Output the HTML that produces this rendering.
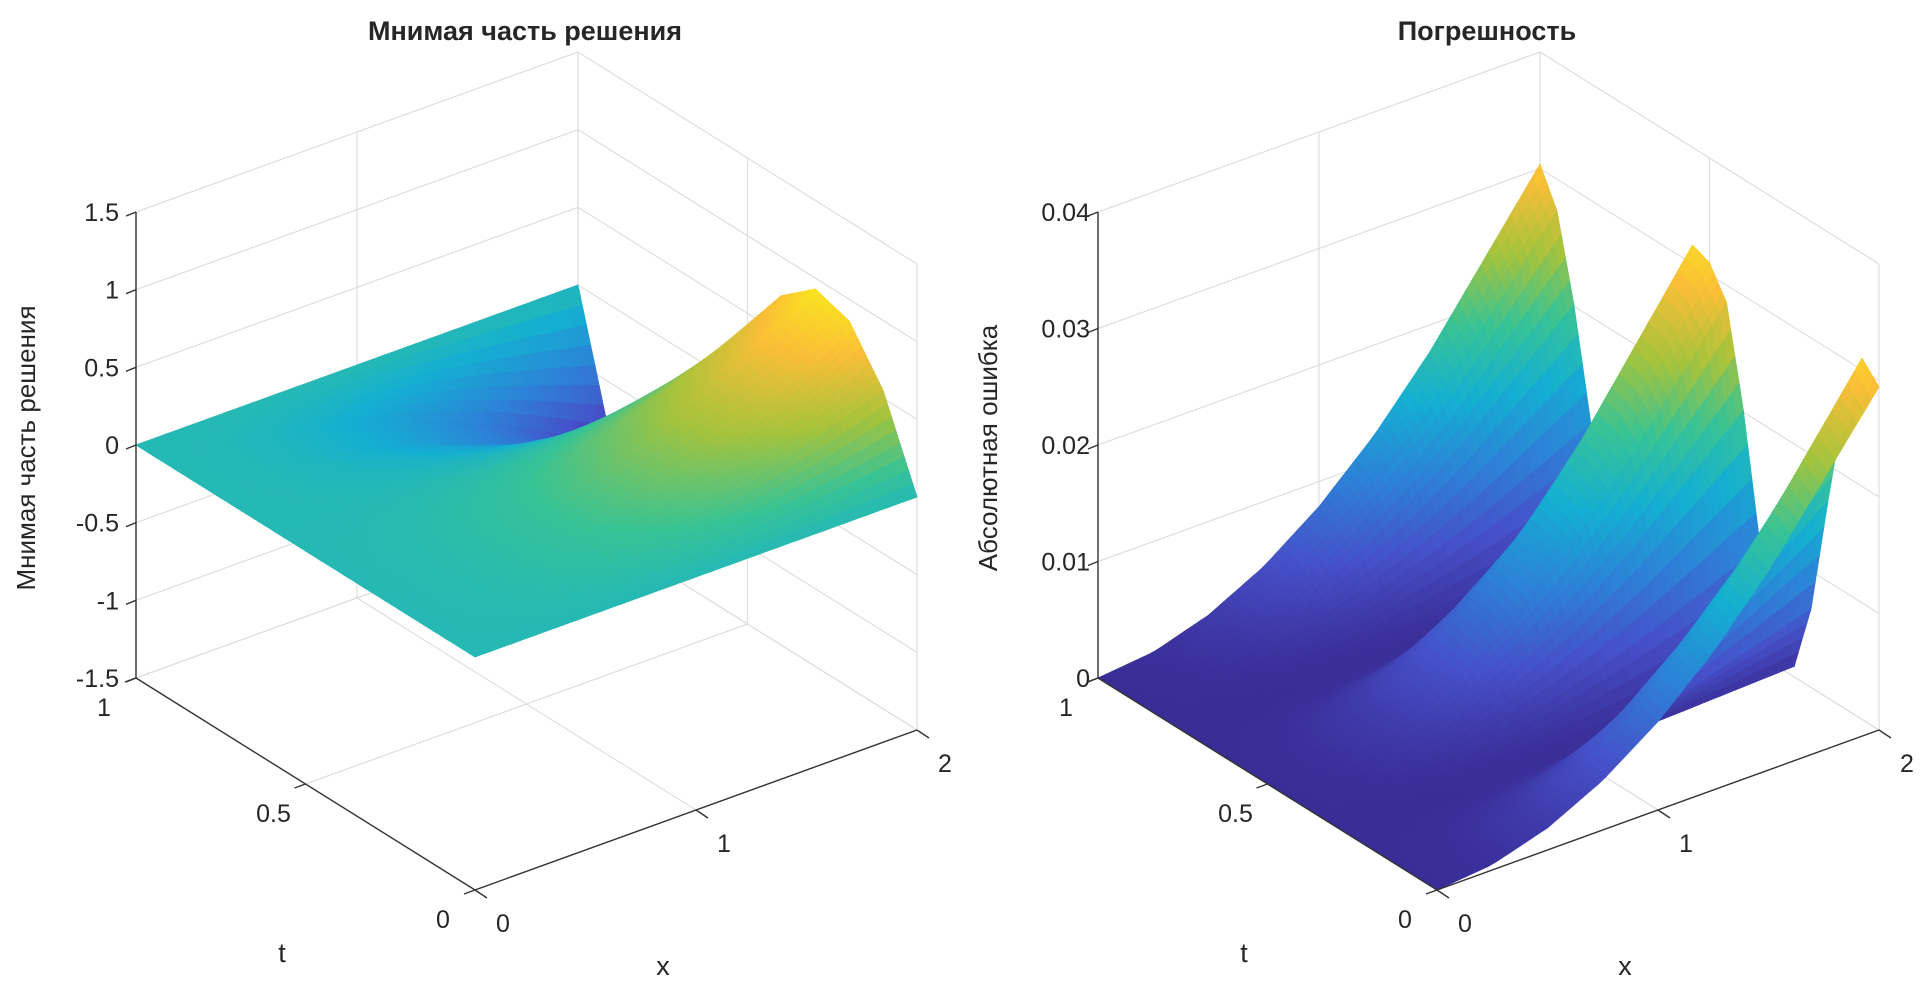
<!DOCTYPE html>
<html><head><meta charset="utf-8"><title>3D surfaces</title>
<style>
html,body{margin:0;padding:0;background:#fff;}
svg{display:block;}
text{font-family:"Liberation Sans","DejaVu Sans",sans-serif;fill:#262626;}
</style></head>
<body>
<svg id="fig" width="1924" height="998" viewBox="0 0 1924 998" xmlns="http://www.w3.org/2000/svg">
<rect width="1924" height="998" fill="#fff"/>
</svg>
<script>
// ---- data arrays ----
const xTicks = [0, 1, 2];
const tTicks = [0, 0.5, 1];
const zTicksLeft = [-1.5, -1, -0.5, 0, 0.5, 1, 1.5];
const zTickLabelsLeft = ["-1.5", "-1", "-0.5", "0", "0.5", "1", "1.5"];
const zTicksRight = [0, 0.01, 0.02, 0.03, 0.04];
const zTickLabelsRight = ["0", "0.01", "0.02", "0.03", "0.04"];
// left surface: z = ampLeft(x) * profLeft(t)
const xSamples = [0, 0.25, 0.5, 0.75, 1, 1.25, 1.5, 1.75, 2];
const ampLeft = [0, 0.016, 0.0625, 0.14, 0.25, 0.39, 0.56, 0.77, 1.0];
const tSamplesLeft = [0, 0.1, 0.2, 0.3, 0.4, 0.5, 0.6, 0.7, 0.8, 0.9, 1.0];
const profLeft = [0, 0.55, 0.86, 0.93, 0.75, 0.35, -0.15, -0.6, -0.95, -0.9, 0];
// right surface: error = ampRight(x) * profRight(t)
const ampRight = [0, 0.0005, 0.002, 0.0045, 0.008, 0.0125, 0.018, 0.0245, 0.031];
const tSamplesRight = [0,0.05,0.1,0.15,0.2,0.25,0.3,0.35,0.4,0.45,0.5,0.55,0.6,0.65,0.7,0.75,0.8,0.85,0.9,0.95,1.0];
const profRight = [0.95,1.0,0.85,0.55,0.22,0.03,0.05,0.3,0.65,0.92,1.0,1.02,0.8,0.45,0.12,0.02,0.1,0.35,0.65,0.88,0.98];

const NS = "http://www.w3.org/2000/svg";
const svg = document.getElementById('fig');
function el(tag, attrs, parent){ const e=document.createElementNS(NS,tag); for(const k in attrs) e.setAttribute(k,attrs[k]); (parent||svg).appendChild(e); return e; }

const PAR = [[0,58,45,150],[0.143,70,80,200],[0.286,45,130,215],[0.429,20,175,210],[0.571,55,195,150],[0.714,165,195,60],[0.857,250,190,55],[1,249,240,25]];
function parula(v){ v=Math.max(0,Math.min(1,v)); for(let i=1;i<PAR.length;i++){ if(v<=PAR[i][0]){ const a=PAR[i-1],b=PAR[i],f=(v-a[0])/(b[0]-a[0]); return `rgb(${Math.round(a[1]+(b[1]-a[1])*f)},${Math.round(a[2]+(b[2]-a[2])*f)},${Math.round(a[3]+(b[3]-a[3])*f)})`; } } return 'rgb(249,240,25)'; }
function lerp(xs, ys, v){ for(let i=1;i<xs.length;i++){ if(v<=xs[i]+1e-9){ const f=(v-xs[i-1])/(xs[i]-xs[i-1]); return ys[i-1]+(ys[i]-ys[i-1])*f; } } return ys[ys.length-1]; }

function makePlot(cfg){
  const g = el('g', {});
  
  
  const X0=cfg.x0, Y0=890, H=466;
  const sx=(x,t)=>X0+221*x-339*t;
  const sy=(x,t,z)=>Y0-80*x-212*t-(z-cfg.zmin)/(cfg.zmax-cfg.zmin)*H;
  const gridC='#dedede';
  const gg = el('g',{stroke:gridC,'stroke-width':1.2,fill:'none'},g);
  
  
  cfg.zTicks.forEach(z=>{
    el('polyline',{points:`${sx(0,1)},${sy(0,1,z)} ${sx(2,1)},${sy(2,1,z)} ${sx(2,0)},${sy(2,0,z)}`},gg);
  });
  xTicks.forEach(x=>{ el('line',{x1:sx(x,1),y1:sy(x,1,cfg.zmin),x2:sx(x,1),y2:sy(x,1,cfg.zmax)},gg);
    el('line',{x1:sx(x,0),y1:sy(x,0,cfg.zmin),x2:sx(x,1),y2:sy(x,1,cfg.zmin)},gg); });
  tTicks.forEach(t=>{ el('line',{x1:sx(2,t),y1:sy(2,t,cfg.zmin),x2:sx(2,t),y2:sy(2,t,cfg.zmax)},gg);
    el('line',{x1:sx(0,t),y1:sy(0,t,cfg.zmin),x2:sx(2,t),y2:sy(2,t,cfg.zmin)},gg); });
  const sg = el('g',{},g);
  
  
  const NX=60, NT=80, patches=[];
  const f=(x,t)=>lerp(xSamples,cfg.amp,x)*lerp(cfg.tS,cfg.prof,t);
  for(let i=0;i<NX;i++) for(let j=0;j<NT;j++){
    const x0=2*i/NX,x1=2*(i+1)/NX,t0=j/NT,t1=(j+1)/NT;
    const z00=f(x0,t0),z10=f(x1,t0),z11=f(x1,t1),z01=f(x0,t1);
    const zc=(z00+z10+z11+z01)/4;
    const depth = -80*(x0+x1)/2 - 212*(t0+t1)/2;
    patches.push({depth, zc, pts:`${sx(x0,t0).toFixed(1)},${sy(x0,t0,z00).toFixed(1)} ${sx(x1,t0).toFixed(1)},${sy(x1,t0,z10).toFixed(1)} ${sx(x1,t1).toFixed(1)},${sy(x1,t1,z11).toFixed(1)} ${sx(x0,t1).toFixed(1)},${sy(x0,t1,z01).toFixed(1)}`});
  }
  patches.sort((a,b)=>a.depth-b.depth);
  patches.forEach(p=>{ const c=parula((p.zc-cfg.cmin)/(cfg.cmax-cfg.cmin));
    const poly = el('polygon',{points:p.pts,fill:c,stroke:c,'stroke-width':0.8,'stroke-linejoin':'round'},sg);
    
     });
  const ag = el('g',{stroke:'#333','stroke-width':1.4,fill:'none'},g);
  
  
  el('line',{x1:sx(0,0),y1:sy(0,0,cfg.zmin),x2:sx(2,0),y2:sy(2,0,cfg.zmin)},ag);
  el('line',{x1:sx(0,0),y1:sy(0,0,cfg.zmin),x2:sx(0,1),y2:sy(0,1,cfg.zmin)},ag);
  el('line',{x1:sx(0,1),y1:sy(0,1,cfg.zmin),x2:sx(0,1),y2:sy(0,1,cfg.zmax)},ag);
  const tg = el('g',{'font-size':25},g);
  
  
  xTicks.forEach(x=>{ el('line',{x1:sx(x,0),y1:sy(x,0,cfg.zmin),x2:sx(x,0)+12,y2:sy(x,0,cfg.zmin)+8},ag);
    const tx=el('text',{x:sx(x,0)+28,y:sy(x,0,cfg.zmin)+42,'text-anchor':'middle'},tg); tx.textContent=String(x);
      });
  tTicks.forEach(t=>{ el('line',{x1:sx(0,t),y1:sy(0,t,cfg.zmin),x2:sx(0,t)-11,y2:sy(0,t,cfg.zmin)+4},ag);
    const tx=el('text',{x:sx(0,t)-32,y:sy(0,t,cfg.zmin)+38,'text-anchor':'middle'},tg); tx.textContent=String(t);
      });
  cfg.zTicks.forEach((z,k)=>{ el('line',{x1:sx(0,1),y1:sy(0,1,z),x2:sx(0,1)-10,y2:sy(0,1,z)+4},ag);
    const tx=el('text',{x:sx(0,1)+cfg.zLabOff,y:sy(0,1,z)+9,'text-anchor':'end'},tg); tx.textContent=cfg.zLabels[k];
      });
  const ti=el('text',{x:X0+50,y:40,'text-anchor':'middle','font-size':27,'font-weight':'bold'},g); ti.textContent=cfg.title;
   
  const xl=el('text',{x:X0+188,y:975,'text-anchor':'middle','font-size':27},g); xl.textContent='x';
   
  const tl=el('text',{x:X0-193,y:962,'text-anchor':'middle','font-size':27},g); tl.textContent='t';
   
  const zl=el('text',{x:0,y:0,'text-anchor':'middle','font-size':26,transform:`translate(${X0-440},448) rotate(-90)`},g); zl.textContent=cfg.zTitle;
   
}
makePlot({name:'imaginary-part-plot',x0:475,zmin:-1.5,zmax:1.5,cmin:-1,cmax:1,amp:ampLeft,tS:tSamplesLeft,prof:profLeft,
  zTicks:zTicksLeft,zLabels:zTickLabelsLeft,zLabOff:-17,title:'Мнимая часть решения',zTitle:'Мнимая часть решения'});
makePlot({name:'error-plot',x0:1437,zmin:0,zmax:0.04,cmin:0,cmax:0.034,amp:ampRight,tS:tSamplesRight,prof:profRight,
  zTicks:zTicksRight,zLabels:zTickLabelsRight,zLabOff:-8,title:'Погрешность',zTitle:'Абсолютная ошибка'});
</script>
</body></html>
